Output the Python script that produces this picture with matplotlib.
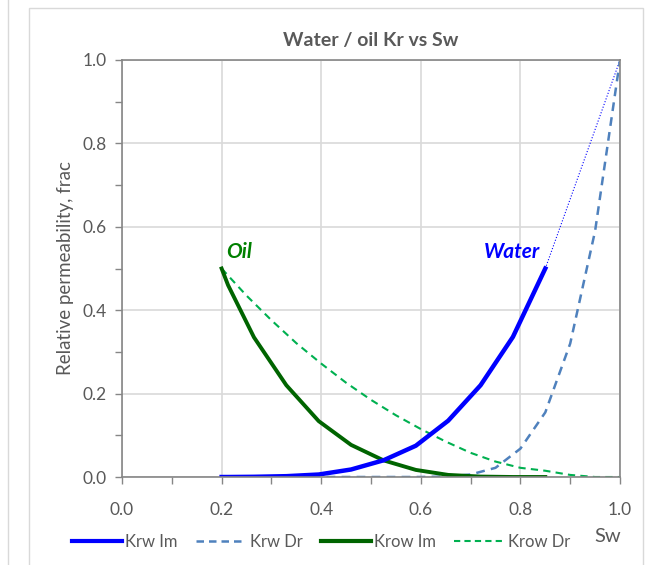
import matplotlib
matplotlib.use('Agg')
from matplotlib import pyplot as plt
from matplotlib.lines import Line2D
from matplotlib.patches import Rectangle
from matplotlib.ticker import MultipleLocator

plt.rcParams['font.family'] = ['Lato', 'DejaVu Sans']

# imbibition curves
sw_im = [0.2, 0.213, 0.265, 0.33, 0.395, 0.46, 0.525, 0.59, 0.655, 0.72, 0.785, 0.85]
krw_im = [0.0, 0.0, 0.0005, 0.002, 0.006, 0.018, 0.04, 0.075, 0.135, 0.22, 0.336, 0.5]
krow_im = [0.5, 0.46, 0.335, 0.22, 0.134, 0.077, 0.04, 0.017, 0.005, 0.001, 0.0, 0.0]

# drainage curves
sw_dr = [0.2, 0.25, 0.3, 0.35, 0.4, 0.45, 0.5, 0.55, 0.6, 0.65, 0.7, 0.75, 0.8, 0.85, 0.9, 0.95, 1.0]
krw_dr = [0, 0, 0, 0, 0, 0, 0, 0, 0, 0.001, 0.006, 0.022, 0.068, 0.155, 0.32, 0.59, 1.0]
krow_dr = [0.5, 0.435, 0.376, 0.321, 0.272, 0.226, 0.185, 0.148, 0.115, 0.085, 0.058,
           0.037, 0.022, 0.015, 0.005, 0.0, 0.0]

# extension of imbibition water curve to end point
sw_ext = [0.85, 1.0]
krw_ext = [0.5, 1.0]

gray = '#595959'

fig = plt.figure(figsize=(6.51, 5.65), dpi=100)
ax = fig.add_axes([122/651, 1 - 477/565, 498/651, 417/565])

fig.patches.append(Rectangle((29/651, -0.1), 614/651, 1.1 - 8/565, transform=fig.transFigure,
                             fill=False, edgecolor='#d9d9d9', linewidth=1))
fig.lines.append(Line2D([8/651, 8/651], [0, 1], transform=fig.transFigure,
                        color='#d9d9d9', linewidth=1))

ax.plot(sw_ext, krw_ext, color='blue', linestyle=':', linewidth=0.8)
ax.plot(sw_dr, krow_dr, color='#00b050', linestyle=(0, (3.5, 2.5)), linewidth=1.5, label='Krow Dr')
ax.plot(sw_dr, krw_dr, color='#4f81bd', linestyle=(0, (3.5, 2.5)), linewidth=1.8, label='Krw Dr')
ax.plot(sw_im, krow_im, color='#006400', linewidth=2.8, label='Krow Im')
ax.plot(sw_im, krw_im, color='blue', linewidth=3.2, label='Krw Im')

ax.set_xlim(0, 1)
ax.set_ylim(0, 1)
ax.xaxis.set_major_locator(MultipleLocator(0.2))
ax.xaxis.set_minor_locator(MultipleLocator(0.1))
ax.yaxis.set_major_locator(MultipleLocator(0.2))
ax.yaxis.set_minor_locator(MultipleLocator(0.1))
ax.xaxis.set_major_formatter(matplotlib.ticker.FormatStrFormatter('%.1f'))
ax.yaxis.set_major_formatter(matplotlib.ticker.FormatStrFormatter('%.1f'))
ax.grid(which='major', color='#d9d9d9', linewidth=1.2)
ax.set_axisbelow(True)
for s in ax.spines.values():
    s.set_color('#868686')
    s.set_linewidth(1.2)
ax.tick_params(axis='both', which='both', direction='out', length=5, color='#868686',
               labelsize=12.5, labelcolor=gray, width=1)
ax.tick_params(axis='x', pad=13)
ax.tick_params(axis='y', pad=6)

ax.set_title('Water / oil Kr vs Sw', fontsize=14, fontweight='bold', color=gray, pad=10)
ax.set_ylabel('Relative permeability, frac', fontsize=13.5, color=gray, labelpad=6)
ax.text(0.975, -0.142, 'Sw', transform=ax.transAxes, fontsize=14.5, color=gray, ha='center', va='center')

ax.text(0.21, 0.525, 'Oil', fontsize=15, fontweight='bold', fontstyle='italic', color='#008000')
ax.text(0.84, 0.525, 'Water', fontsize=15, fontweight='bold', fontstyle='italic', color='blue', ha='right')

handles = [Line2D([], [], color='blue', linewidth=3),
           Line2D([], [], color='#4f81bd', linestyle=(0, (3, 2)), linewidth=1.8),
           Line2D([], [], color='#006400', linewidth=3),
           Line2D([], [], color='#00b050', linestyle=(0, (3, 2)), linewidth=1.5)]
leg = fig.legend(handles, ['Krw Im', 'Krw Dr', 'Krow Im', 'Krow Dr'], ncol=4, frameon=False,
                 loc='center', bbox_to_anchor=(321/651, 1 - 542/565), fontsize=12,
                 handlelength=3.0, handletextpad=0.2, columnspacing=1.1)
for t in leg.get_texts():
    t.set_color(gray)

fig.savefig('out.png', dpi=100)
